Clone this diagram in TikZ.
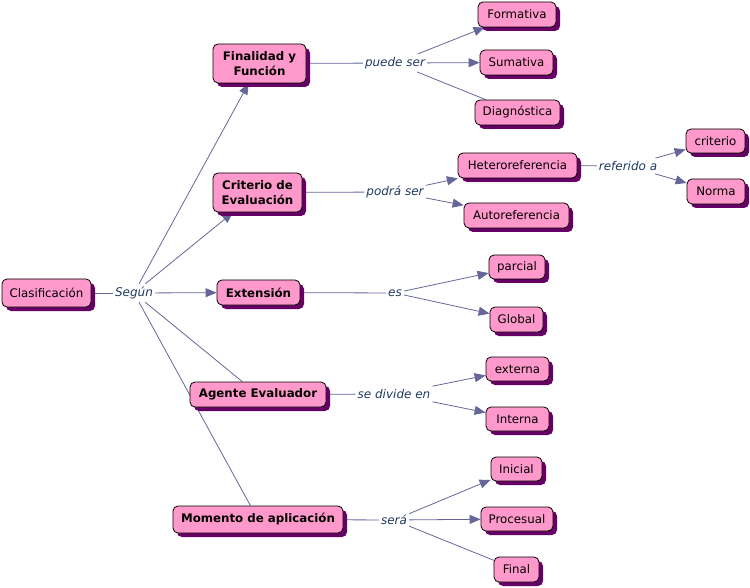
\documentclass[tikz,border=0pt]{standalone}
\usepackage{fontspec}
\setmainfont{DejaVu Sans}
\usetikzlibrary{arrows.meta,shadows}
\pgfdeclarelayer{bg}
\pgfsetlayers{bg,main}
\definecolor{nodefill}{RGB}{255,153,204}
\definecolor{shadowc}{RGB}{102,0,102}
\definecolor{linec}{RGB}{102,102,153}
\definecolor{linktext}{RGB}{31,58,96}
\begin{document}
\begin{tikzpicture}[x=1pt,y=-1pt,
  concept/.style={draw=black, line width=0.8pt, fill=nodefill, rounded corners=5pt,
    inner sep=1pt, align=center, font=\fontsize{11.8}{14.5}\selectfont,
    drop shadow={shadow xshift=4pt, shadow yshift=-4pt, fill=shadowc, opacity=1}},
  mainconcept/.style={concept, font=\fontsize{11.8}{14.5}\selectfont\bfseries},
  linkphrase/.style={text=linktext, inner xsep=2pt, inner ysep=3pt,
    font=\fontsize{12}{14}\selectfont\itshape},
  conn/.style={draw=linec, line width=0.8pt},
  arr/.style={conn, -{Triangle[length=11pt,width=9pt]}},
]
\useasboundingbox (0,0) rectangle (750,588);

% concepts
\node[concept, minimum width=89pt, minimum height=28pt] (clas) at (46.5,293) {Clasificación};
\node[mainconcept, minimum width=93pt, minimum height=39pt] (fin) at (259.5,63.5) {Finalidad y\\Función};
\node[concept, minimum width=78pt, minimum height=25pt] (form) at (517,14.5) {Formativa};
\node[concept, minimum width=73pt, minimum height=25pt] (sum) at (516.5,62.5) {Sumativa};
\node[concept, minimum width=85pt, minimum height=25pt] (diag) at (517.5,112.5) {Diagnóstica};
\node[mainconcept, minimum width=89pt, minimum height=39pt] (crit) at (257.5,192.5) {Criterio de\\Evaluación};
\node[concept, minimum width=119pt, minimum height=25pt] (hetero) at (517.5,165.5) {Heteroreferencia};
\node[concept, minimum width=105pt, minimum height=25pt] (auto) at (516.5,215.5) {Autoreferencia};
\node[concept, minimum width=59pt, minimum height=24pt] (criterio) at (715.5,141) {criterio};
\node[concept, minimum width=58pt, minimum height=25pt] (norma) at (716,191.5) {Norma};
\node[mainconcept, minimum width=83pt, minimum height=25pt] (ext) at (258.5,292.5) {Extensión};
\node[concept, minimum width=56pt, minimum height=24pt] (parcial) at (517,267) {parcial};
\node[concept, minimum width=53pt, minimum height=25pt] (global) at (516.5,319.5) {Global};
\node[mainconcept, minimum width=136pt, minimum height=25pt] (agente) at (258,394.5) {Agente Evaluador};
\node[concept, minimum width=63pt, minimum height=24pt] (externa) at (517.5,369) {externa};
\node[concept, minimum width=63pt, minimum height=24pt] (interna) at (517.5,419) {Interna};
\node[mainconcept, minimum width=170pt, minimum height=27pt] (momento) at (258,519.5) {Momento de aplicación};
\node[concept, minimum width=51pt, minimum height=24pt] (inicial) at (516.5,469) {Inicial};
\node[concept, minimum width=72pt, minimum height=24pt] (procesual) at (517,519) {Procesual};
\node[concept, minimum width=45pt, minimum height=25pt] (final) at (516.5,569.5) {Final};

% linking phrases
\node[linkphrase] (segun) at (134,293) {Según};
\node[linkphrase] (puede) at (395,63) {puede ser};
\node[linkphrase] (podra) at (395,192) {podrá ser};
\node[linkphrase] (referido) at (628,166) {referido a};
\node[linkphrase] (es) at (395,293) {es};
\node[linkphrase] (divide) at (394,394) {se divide en};
\node[linkphrase] (sera) at (394,520) {será};

\begin{pgfonlayer}{bg}
\draw[conn] (clas) -- (segun);
\draw[arr] (segun) -- (fin);
\draw[arr] (segun) -- (crit);
\draw[arr] (segun) -- (ext);
\draw[conn] (segun) -- (agente);
\draw[conn] (segun) -- (momento);

\draw[conn] (fin) -- (puede);
\draw[arr] (puede) -- (form);
\draw[arr] (puede) -- (sum);
\draw[conn] (puede) -- (diag);

\draw[conn] (crit) -- (podra);
\draw[arr] (podra) -- (hetero);
\draw[arr] (podra) -- (auto);

\draw[conn] (hetero) -- (referido);
\draw[arr] (referido) -- (criterio);
\draw[arr] (referido) -- (norma);

\draw[conn] (ext) -- (es);
\draw[arr] (es) -- (parcial);
\draw[arr] (es) -- (global);

\draw[conn] (agente) -- (divide);
\draw[arr] (divide) -- (externa);
\draw[arr] (divide) -- (interna);

\draw[conn] (momento) -- (sera);
\draw[arr] (sera) -- (inicial);
\draw[arr] (sera) -- (procesual);
\draw[conn] (sera) -- (final);
\end{pgfonlayer}
\end{tikzpicture}
\end{document}
